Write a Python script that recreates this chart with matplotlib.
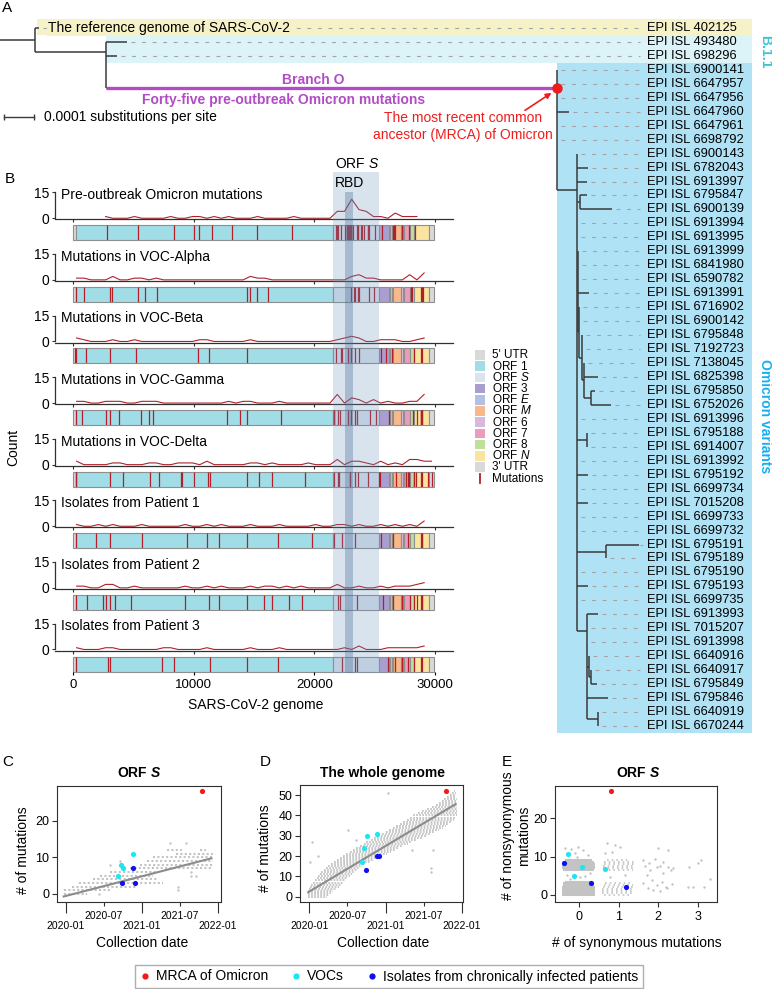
import numpy as np
import pandas as pd
import matplotlib
matplotlib.use("Agg")
import matplotlib.pyplot as plt
import matplotlib.dates as mdates
from matplotlib.patches import Rectangle
from matplotlib.lines import Line2D

plt.rcParams['font.family'] = 'Liberation Sans'
plt.rcParams['mathtext.fontset'] = 'custom'
plt.rcParams['mathtext.rm'] = 'Liberation Sans'
plt.rcParams['mathtext.it'] = 'Liberation Sans:italic'
plt.rcParams['mathtext.bf'] = 'Liberation Sans:bold'
plt.rcParams['mathtext.bfit'] = 'Liberation Sans:italic:bold'

W, H = 772, 989
GENOME = 29903
DAY0 = pd.Timestamp("2020-01-01")

# ---------------- data ----------------
# tree: tip = (name, length), node = [length, children, y anchor (tip rows) or None, label]
# lengths in mutations (1 mutation = 1/29903 substitutions per site)
tree = [3.5, [
    ("EPI ISL 402125", 0.4),
    [7.1, [
        ("EPI ISL 493480", 2.1),
        ("EPI ISL 698296", 1.1),
        [45.1, [
            ("EPI ISL 6900141", 0.0),
            ("EPI ISL 6647957", 0.0),
            ("EPI ISL 6647956", 0.0),
            ("EPI ISL 6647960", 1.2),
            ("EPI ISL 6647961", 0.0),
            ("EPI ISL 6698792", 0.0),
            [2.0, [
                ("EPI ISL 6900143", 0.0),
                ("EPI ISL 6782043", 1.1),
                ("EPI ISL 6913997", 1.0),
                [0.3, [("EPI ISL 6795847", 0.7), ("EPI ISL 6900139", 3.2)], None, ""],
                ("EPI ISL 6913994", 0.0),
                ("EPI ISL 6913995", 0.0),
                [0.1, [
                    ("EPI ISL 6913999", 0.0),
                    ("EPI ISL 6841980", 0.0),
                    ("EPI ISL 6590782", 0.0),
                    ("EPI ISL 6913991", 1.1),
                    [0.1, [
                        ("EPI ISL 6716902", 0.0),
                        ("EPI ISL 6900142", 0.0),
                        [0.3, [
                            ("EPI ISL 6795848", 0.0),
                            ("EPI ISL 7192723", 0.0),
                            [0.2, [
                                ("EPI ISL 7138045", 0.0),
                                ("EPI ISL 6825398", 1.4),
                                [0.7, [("EPI ISL 6795850", 0.4), ("EPI ISL 6752026", 2.0)], None, ""],
                            ], None, ""],
                        ], None, ""],
                    ], None, ""],
                ], None, ""],
                ("EPI ISL 6913996", 0.0),
                [1.0, [("EPI ISL 6795188", 0.0), ("EPI ISL 6914007", 0.0)], None, ""],
                ("EPI ISL 6913992", 0.0),
                ("EPI ISL 6795192", 1.1),
                ("EPI ISL 6699734", 0.0),
                ("EPI ISL 7015208", 1.1),
                ("EPI ISL 6699733", 0.0),
                ("EPI ISL 6699732", 0.0),
                [2.9, [("EPI ISL 6795191", 3.3), ("EPI ISL 6795189", 0.0)], None, ""],
                ("EPI ISL 6795190", 0.0),
                ("EPI ISL 6795193", 1.1),
                ("EPI ISL 6699735", 0.0),
                [1.0, [
                    ("EPI ISL 6913993", 1.1),
                    ("EPI ISL 7015207", 0.0),
                    ("EPI ISL 6913998", 0.0),
                    [0.2, [("EPI ISL 6640916", 0.0),
                           [0.2, [("EPI ISL 6640917", 0.0), ("EPI ISL 6795849", 0.6)], None, ""]], None, ""],
                    ("EPI ISL 6795846", 2.1),
                    [1.1, [("EPI ISL 6640919", 0.0), ("EPI ISL 6670244", 0.0)], None, ""],
                ], 43.2, ""],
            ], 11.6, ""],
        ], 4.3, "MRCA"],
    ], 1.72, "B.1.1"],
], None, "root"]

# genome annotation
gene_start = [1, 266, 21563, 25393, 26245, 26523, 27202, 27394, 27894, 28274, 29534]
gene_end = [265, 21555, 25384, 26220, 26472, 27191, 27387, 27887, 28259, 29533, 29903]
gene_colors = ["#d9d9d9", "#a1dde6", "#dbe4ee", "#a89fd0", "#b4bfe4", "#f8b98a",
               "#d8b8dc", "#eb9cbb", "#bfe09b", "#f9e5a0", "#d9d9d9"]
gene_labels = ["5' UTR", r"ORF $\mathit{1}$", r"ORF $\mathit{S}$", r"ORF $\mathit{3}$",
               r"ORF $\mathit{E}$", r"ORF $\mathit{M}$", r"ORF $\mathit{6}$", r"ORF $\mathit{7}$",
               r"ORF $\mathit{8}$", r"ORF $\mathit{N}$", "3' UTR"]
s_region = (21563, 25384)
rbd_region = (22517, 23185)

row_titles = ["Pre-outbreak Omicron mutations", "Mutations in VOC-Alpha", "Mutations in VOC-Beta",
              "Mutations in VOC-Gamma", "Mutations in VOC-Delta", "Isolates from Patient 1",
              "Isolates from Patient 2", "Isolates from Patient 3"]
mut_pre = [2832, 5386, 8393, 10029, 10449, 11537, 13195, 15240, 18163,
           21762, 21846, 21987, 22194, 22578, 22673, 22679, 22686, 22813, 22882, 22898,
           22992, 22995, 23013, 23040, 23048, 23055, 23075, 23202, 23525, 23599, 23604,
           23854, 23948, 24130, 24424, 24469, 24503, 25000,
           25584, 26530, 26577, 26709, 27259, 27807, 28311]
mut_alpha = [241, 913, 3037, 3267, 5388, 5986, 6954, 14408, 14676, 15279, 16176, 23063, 23271,
             23403, 23604, 23709, 24506, 24914, 27972, 28048, 28111, 28881, 28882, 28883, 28977]
mut_beta = [174, 241, 1059, 3037, 5230, 10323, 11288, 14408, 21801, 22206, 22281, 22813, 23012,
            23063, 23403, 23664, 25563, 25904, 26456, 28253, 28881, 28887]
mut_gamma = [241, 733, 2749, 3037, 3828, 5648, 6319, 6613, 12778, 13860, 14408, 17259, 21614,
             21621, 21638, 21974, 22132, 22812, 23012, 23063, 23403, 23525, 24642, 25088, 26149,
             28167, 28512, 28877, 28878, 28881, 28882, 28883]
mut_delta = [210, 241, 3037, 4181, 6402, 7124, 8986, 9053, 10029, 11201, 11332, 14408, 15451,
             16466, 19220, 21618, 21987, 22029, 22917, 22995, 23403, 23604, 24410, 25352, 25469,
             26767, 27638, 27752, 27874, 28248, 28270, 28461, 28881, 28916, 29402, 29742]
mut_p1 = [241, 1912, 3037, 5700, 9430, 11083, 12100, 14408, 17000, 19800, 21600, 22320, 23403,
          25563, 26500, 27800, 28881, 28882, 28883]
mut_p2 = [241, 1160, 2480, 2760, 3037, 3500, 4800, 9250, 11230, 12090, 14408, 15790, 16480,
          17940, 18960, 21990, 22100, 23520, 25700, 26500, 27300, 27900, 28250, 28500, 28881,
          28882, 28883]
mut_p3 = [241, 2900, 3037, 7370, 8340, 11320, 14408, 16970, 22330, 23403, 23520, 26100, 26700,
          27300, 27800, 28250, 28881, 28882]
row_muts = [mut_pre, mut_alpha, mut_beta, mut_gamma, mut_delta, mut_p1, mut_p2, mut_p3]

# C: ORF S mutations vs collection date (days since 2020-01-01); dense rows of points
c_row_y = [0, 1, 2, 3, 4, 5, 6, 7, 8, 9, 10, 11, 12, 12]
c_row_start = [-11, -11, 29, 61, 132, 164, 212, 308, 356, 388, 420, 531, 484, 643]
c_row_end = [100, 212, 340, 468, 436, 420, 436, 707, 707, 707, 707, 707, 560, 675]
c_out_day = [500, 579, 539, 539, 603, 627, 603, 161, 212, 260]
c_out_y = [14, 14, 2, 1, 5, 5, 6, 0, 8, 9]
c_fit_day = [-11, 699]
c_fit_y = [-0.7, 9.7]

# D: whole genome mutations vs date
d_row_start = [-8, -8, -6, -4, 0, 3, 10, 18, 26, 35, 43, 52, 58, 72, 80, 91, 105, 118, 132, 147,
               162, 178, 194, 210, 226, 242, 260, 270, 295, 312, 330, 347, 365, 382, 400, 417,
               433, 449, 465, 481, 497, 519, 541, 563, 586, 608, 621, 634, 646, 659, 672, 682, 692]
d_row_end = [85, 95, 105, 116, 128, 140, 150, 160, 172, 183, 195, 205, 218, 228, 240, 250, 268,
             290, 310, 332, 355, 372, 392, 410, 430, 449, 470, 492, 515, 538, 560, 580, 600, 620,
             640, 656, 668, 680, 692, 700, 704, 704, 705, 706, 706, 706, 706, 705, 704, 703, 702,
             700, 698]
d_out_day = [11, 3, 377, 489, 592, 580, 584, 226, 186, 43]
d_out_y = [27, 17, 51, 23, 23, 14, 12, 28, 33, 20]
d_fit_day = [-5, 700]
d_fit_y = [2.2, 45.6]

# highlighted isolates
mrca_day = 656
mrca_orf_s, mrca_genome = 28, 52
voc_day = [250, 263, 276, 322]
voc_orf_s = [5, 8, 7, 11]
voc_genome = [17, 24, 30, 31]
pat_day = [271, 324, 333]
pat_orf_s = [3, 7, 3]
pat_genome = [13, 20, 20]

# E: synonymous vs nonsynonymous in ORF S (jittered)
e_dense_y = [0, 0.5, 1, 1.5, 2, 2.5, 3, 3.5, 6.5, 7, 7.5, 8, 8.5, 9]
e_dense_x0 = [-0.42, -0.43, -0.43, -0.42, -0.42, -0.41, -0.40, -0.35, -0.40, -0.42, -0.43, -0.42, -0.40, -0.36]
e_dense_x1 = [0.40, 0.41, 0.41, 0.40, 0.40, 0.38, 0.36, 0.30, 0.38, 0.40, 0.41, 0.40, 0.38, 0.32]
e_sparse_y = [0, 0.5, 1, 1.5, 2, 2.5, 3, 6.5, 7, 7.5, 8, 8.5, 9]
e_sparse_x0 = [0.62, 0.58, 0.58, 0.58, 0.60, 0.62, 0.66, 0.64, 0.60, 0.60, 0.62, 0.64, 0.70]
e_sparse_x1 = [1.30, 1.38, 1.40, 1.40, 1.38, 1.36, 1.30, 1.36, 1.40, 1.42, 1.40, 1.38, 1.30]
e_pts_x = [1.63, 1.77, 1.96, 2.13, 2.26, 2.32, 2.00, 2.26, 1.71, 1.84, 1.96, 2.09, 2.20, 1.63,
           1.75, 1.88, 2.05, 2.22, 2.34, 2.13, 2.05, 1.92, 1.79, 1.67, 2.38,
           0.70, 0.91, 0.83, 1.04, 0.66, 0.78, 1.16,
           -0.35, -0.19, -0.02, 0.11, -0.10, 0.24, -0.31, 0.03, 0.28, -0.23, 0.15, -0.05,
           2.76, 2.89, 3.16, 2.78, 3.02, 3.08, 3.31]
e_pts_y = [9.1, 8.3, 7.4, 8.7, 7.4, 6.5, 12.3, 11.7, 5.2, 3.9, 2.6, 3.5, 2.2, 3.0,
           1.7, 1.3, 1.1, 1.7, 2.9, 5.7, 7.6, 9.3, 6.5, 7.6, 7.1,
           13.5, 13.0, 11.3, 12.4, 10.9, 4.8, 5.2,
           12.2, 11.9, 12.4, 11.6, 10.9, 10.4, 5.2, 4.6, 5.7, 4.2, 5.0, 10.0,
           2.1, 2.1, 2.1, 7.4, 8.3, 9.0, 4.1]
e_mrca = (0.81, 27.1)
e_voc_x = [-0.27, 0.08, -0.12, 0.66]
e_voc_y = [10.7, 7.3, 5.0, 6.9]
e_pat_x = [-0.37, 0.30, 1.20]
e_pat_y = [8.3, 3.1, 2.2]

# ---------------- style ----------------
TREE = "#3a3a3a"
PURPLE = "#b24cc6"
RED = "#f01c1c"
CYAN = "#22e4f0"
BLUE = "#1010ee"
GRAY = "#c3c3c3"
FIT = "#8c8c8c"
MUT = "#b0202a"

fig = plt.figure(figsize=(W / 100, H / 100), dpi=100)


def box(l, t, r, b):
    return [l / W, 1 - b / H, (r - l) / W, (b - t) / H]


def put(x, y, s, **kw):
    return fig.text(x / W, 1 - y / H, s, **kw)


def date_num(days):
    d = DAY0 + pd.to_timedelta(np.asarray(days, dtype=float), unit="D")
    return mdates.date2num(d.to_numpy())


# ---------------- A: tree ----------------
axA = fig.add_axes(box(0, 14, W, 740))
axA.set_xlim(0, W / 10)
axA.set_ylim(51.0, -1.0)
axA.axis("off")

tip_names, tip_x = [], []
hsegs, vsegs, nodes = [], [], {}


def place(node, xp):
    if isinstance(node, tuple):
        name, length = node
        tip_names.append(name)
        tip_x.append(xp + length)
        y = len(tip_names) - 1
        hsegs.append((xp, xp + length, y))
        return y
    length, kids, anchor, label = node
    x = xp + length
    ys = [place(k, x) for k in kids]
    y = anchor if anchor is not None else (min(ys) + max(ys)) / 2
    vsegs.append((x, min(ys + [y]), max(ys + [y])))
    hsegs.append((xp, x, y))
    if label:
        nodes[label] = (xp, x, y)
    return y


place(tree, 0.0)

right_edge = 75.2
x_root = nodes["root"][1]
x_b11 = nodes["B.1.1"][1]
xp_m, x_mrca, y_mrca = nodes["MRCA"]
axA.add_patch(Rectangle((x_root + 0.2, -0.64), right_edge - x_root - 0.2, 1.14,
                        fc="#f6f2c8", ec="none", zorder=0))
axA.add_patch(Rectangle((x_b11, 0.5), right_edge - x_b11, 2.0, fc="#dcf4f7", ec="none", zorder=0))
axA.add_patch(Rectangle((x_mrca, 2.5), right_edge - x_mrca, 48.0, fc="#b0e2f6", ec="none", zorder=0))

for i, (name, tx) in enumerate(zip(tip_names, tip_x)):
    axA.plot([tx + 0.4, 64.0], [i, i], color="#a4a4a4", lw=0.8, ls=(0, (3.5, 6)), zorder=1)
    axA.text(64.7, i, name, fontsize=9.3, va="center", ha="left")

for x0, x1, y in hsegs:
    axA.plot([x0, x1], [y, y], color=TREE, lw=1.1, solid_capstyle="butt", zorder=2)
for x, y0, y1 in vsegs:
    axA.plot([x, x], [y0, y1], color=TREE, lw=1.1, solid_capstyle="butt", zorder=2)
axA.plot([xp_m, x_mrca], [y_mrca, y_mrca], color=PURPLE, lw=2.4, solid_capstyle="butt", zorder=3)
axA.plot(x_mrca, y_mrca, "o", color=RED, ms=6.5, zorder=4)
axA.annotate("", xy=(x_mrca - 0.55, y_mrca + 0.35), xytext=(52.5, 5.9),
             arrowprops=dict(arrowstyle="-|>", color=RED, lw=1.2, mutation_scale=8,
                             shrinkA=0, shrinkB=0))

# scale bar: 0.0001 substitutions per site
sb_len = 0.0001 * GENOME
axA.plot([0.4, 0.4 + sb_len], [6.38, 6.38], color=TREE, lw=1.0, marker="|", ms=5)
put(44, 117, "0.0001 substitutions per site", fontsize=10, va="center")

put(48, 28, "The reference genome of SARS-CoV-2", fontsize=10, va="center",
    bbox=dict(fc="#f6f2c8", ec="none", pad=1))
put(313, 80, "Branch O", fontsize=10, fontweight="bold", color=PURPLE, ha="center", va="center")
put(284, 100, "Forty-five pre-outbreak Omicron mutations", fontsize=10, fontweight="bold",
    color=PURPLE, ha="center", va="center")
put(463, 118, "The most recent common", fontsize=10, color=RED, ha="center", va="center")
put(463, 135, "ancestor (MRCA) of Omicron", fontsize=10, color=RED, ha="center", va="center")
put(765, 52, "B.1.1", fontsize=10, fontweight="bold", color="#3cc6d2", rotation=-90,
    ha="center", va="center")
put(765, 416, "Omicron variants", fontsize=10, fontweight="bold", color="#18aef0",
    rotation=-90, ha="center", va="center")
put(2, 8, "A", fontsize=11, va="center")

# ---------------- B: mutation maps ----------------
BX0, BX1 = 55, 453
G0_PX, G30_PX = 73, 435
px_bp = (G30_PX - G0_PX) / 30000
xlimB = ((BX0 - G0_PX) / px_bp, (BX1 - G0_PX) / px_bp)
edges = np.arange(0, 30001, 600)
centers = edges[:-1] + 300

put(5, 179, "B", fontsize=11, va="center")
for i, (title, muts) in enumerate(zip(row_titles, row_muts)):
    y0 = 219.3 + 61.6 * i
    ax = fig.add_axes(box(BX0, y0 - 28, BX1, y0))
    counts, _ = np.histogram(muts, bins=edges)
    nz = np.nonzero(counts)[0]
    sl = slice(nz[0], nz[-1] + 1)
    ax.plot(centers[sl], counts[sl], color=MUT, lw=0.8)
    ax.set_xlim(*xlimB)
    ax.set_ylim(-0.6, 15.6)
    ax.set_yticks([0, 15])
    ax.set_xticks([0, 10000, 20000, 30000])
    ax.set_xticklabels([])
    ax.spines["top"].set_visible(False)
    ax.spines["right"].set_visible(False)
    ax.spines["left"].set_bounds(0, 15)
    for s in ("left", "bottom"):
        ax.spines[s].set_linewidth(0.9)
        ax.spines[s].set_color("#303030")
    ax.tick_params(length=2.2, width=0.8, labelsize=10, pad=2, color="#303030")
    ax.patch.set_alpha(0)
    put(61, y0 - 24, title, fontsize=10, va="center")

    axg = fig.add_axes(box(BX0, y0 + 6, BX1, y0 + 21))
    axg.set_xlim(*xlimB)
    axg.set_ylim(0, 1)
    axg.barh(0.5, np.subtract(gene_end, gene_start), left=gene_start, height=1,
             color=gene_colors, edgecolor="#8f8f8f", lw=0.8, clip_on=False)
    axg.vlines(muts, 0, 1, color=MUT, lw=0.9)
    axg.set_yticks([])
    for s in axg.spines.values():
        s.set_visible(False)
    axg.patch.set_alpha(0)
    if i == len(row_titles) - 1:
        axg.set_xticks([0, 10000, 20000, 30000])
        axg.tick_params(axis="x", length=2.2, width=0.8, labelsize=9.5, pad=3.5)
    else:
        axg.set_xticks([])

axS = fig.add_axes(box(BX0, 172, BX1, 673))
axS.set_xlim(*xlimB)
axS.set_ylim(0, 1)
axS.axis("off")
axS.set_zorder(5)
axS.axvspan(*s_region, color="#6b93bf", alpha=0.25, lw=0)
axS.axvspan(*rbd_region, ymax=(673 - 192) / (673 - 172), color="#4a6f96", alpha=0.35, lw=0)
put(357, 164, r"ORF $\mathit{S}$", fontsize=10, ha="center", va="center")
put(350, 183, "RBD", fontsize=10, ha="center", va="center", zorder=6)
put(256, 705, "SARS-CoV-2 genome", fontsize=10, ha="center", va="center")
put(13, 447, "Count", fontsize=10, rotation=90, ha="center", va="center")

# legend of B
for k, (lab, col) in enumerate(zip(gene_labels, gene_colors)):
    yc = 355 + 11.2 * k
    fig.patches.append(Rectangle((475 / W, 1 - (yc + 4.8) / H), 10 / W, 9.6 / H,
                                 transform=fig.transFigure, fc=col, ec="none"))
    put(492, yc + 3.4, lab, fontsize=8.5, va="baseline")
yc = 355 + 11.2 * len(gene_labels)
fig.add_artist(Line2D([480 / W, 480 / W], [1 - (yc - 4.5) / H, 1 - (yc + 4.5) / H],
                      color=MUT, lw=1.3))
put(492, yc + 3.4, "Mutations", fontsize=8.5, va="baseline")

# ---------------- C, D, E ----------------
jan = ["2020-01-01", "2021-01-01", "2022-01-01"]
jul = ["2020-07-01", "2021-07-01"]


def str_num(dates):
    return mdates.date2num(pd.to_datetime(dates).to_numpy())


def style_box(ax):
    for s in ax.spines.values():
        s.set_linewidth(0.8)
        s.set_color("#303030")
    ax.tick_params(which="both", direction="out", width=0.8, color="#303030")
    ax.tick_params(axis="y", length=3.5, labelsize=9, pad=2)


def date_axis(ax):
    ax.set_xticks(str_num(jan))
    ax.set_xticklabels([d[:7] for d in jan])
    ax.set_xticks(str_num(jul), minor=True)
    ax.set_xticklabels([d[:7] for d in jul], minor=True)
    ax.tick_params(axis="x", which="major", length=8, pad=5.5, labelsize=7.5)
    ax.tick_params(axis="x", which="minor", length=3, pad=3.2, labelsize=7.5)


axC = fig.add_axes(box(57, 786, 221, 902))
axC.hlines(c_row_y, date_num(c_row_start), date_num(c_row_end), colors=GRAY, lw=1.5,
           linestyles=(0, (1, 1.1)))
axC.scatter(date_num(c_out_day), c_out_y, s=3, color=GRAY, lw=0)
axC.plot(date_num(c_fit_day), c_fit_y, color=FIT, lw=1.5)
axC.scatter(date_num(voc_day), voc_orf_s, s=14, color=CYAN, lw=0, zorder=3)
axC.scatter(date_num(pat_day), pat_orf_s, s=14, color=BLUE, lw=0, zorder=3)
axC.scatter(date_num([mrca_day]), [mrca_orf_s], s=14, color=RED, lw=0, zorder=3)
axC.set_xlim(*date_num([-43, 745]))
axC.set_ylim(-2.2, 29.4)
axC.set_yticks([0, 10, 20])
style_box(axC)
date_axis(axC)
put(139, 773, r"ORF $\mathbfit{S}$", fontsize=10, fontweight="bold", ha="center", va="center")
put(23, 850, "# of mutations", fontsize=10, rotation=90, ha="center", va="center")
put(142, 943, "Collection date", fontsize=10, ha="center", va="center")
put(2, 762, "C", fontsize=11, va="center")

axD = fig.add_axes(box(300, 785, 463, 902))
axD.hlines(np.arange(len(d_row_start)), date_num(d_row_start), date_num(d_row_end), colors=GRAY,
           lw=1.3, linestyles=(0, (1, 0.7)))
axD.scatter(date_num(d_out_day), d_out_y, s=3, color=GRAY, lw=0)
axD.plot(date_num(d_fit_day), d_fit_y, color=FIT, lw=1.5)
axD.scatter(date_num(voc_day), voc_genome, s=14, color=CYAN, lw=0, zorder=3)
axD.scatter(date_num(pat_day), pat_genome, s=14, color=BLUE, lw=0, zorder=3)
axD.scatter(date_num([mrca_day]), [mrca_genome], s=14, color=RED, lw=0, zorder=3)
axD.set_xlim(*date_num([-44, 735]))
axD.set_ylim(-2.6, 55.0)
axD.set_yticks([0, 10, 20, 30, 40, 50])
style_box(axD)
date_axis(axD)
put(382, 773, "The whole genome", fontsize=10, fontweight="bold", ha="center", va="center")
put(265, 848, "# of mutations", fontsize=10, rotation=90, ha="center", va="center")
put(383, 943, "Collection date", fontsize=10, ha="center", va="center")
put(260, 762, "D", fontsize=11, va="center")

axE = fig.add_axes(box(555, 786, 717, 902))
axE.hlines(e_dense_y, e_dense_x0, e_dense_x1, colors=GRAY, lw=1.5)
axE.hlines(e_sparse_y, e_sparse_x0, e_sparse_x1, colors=GRAY, lw=1.2, linestyles=(0, (1, 1.8)))
axE.scatter(e_pts_x, e_pts_y, s=3, color=GRAY, lw=0)
axE.scatter(e_voc_x, e_voc_y, s=14, color=CYAN, lw=0, zorder=3)
axE.scatter(e_pat_x, e_pat_y, s=14, color=BLUE, lw=0, zorder=3)
axE.scatter([e_mrca[0]], [e_mrca[1]], s=14, color=RED, lw=0, zorder=3)
axE.set_xlim(-0.607, 3.49)
axE.set_ylim(-1.83, 28.4)
axE.set_xticks([0, 1, 2, 3])
axE.set_yticks([0, 10, 20])
style_box(axE)
axE.tick_params(axis="x", length=3.6, labelsize=9, pad=3)
put(638, 773, r"ORF $\mathbfit{S}$", fontsize=10, fontweight="bold", ha="center", va="center")
put(516, 836, "# of nonsynonymous\nmutations", fontsize=10, rotation=90, ha="center",
    va="center", multialignment="center", linespacing=1.25)
put(637, 943, "# of synonymous mutations", fontsize=10, ha="center", va="center")
put(502, 762, "E", fontsize=11, va="center")

handles = [Line2D([], [], ls="", marker="o", ms=4.5, color=c, mec="none") for c in (RED, CYAN, BLUE)]
leg = fig.legend(handles, ["MRCA of Omicron", "VOCs", "Isolates from chronically infected patients"],
                 loc="center", bbox_to_anchor=(389 / W, 1 - 976.5 / H), ncol=3, fontsize=10,
                 frameon=True, fancybox=False, edgecolor="#9a9a9a", handlelength=0.8,
                 handletextpad=0.4, columnspacing=1.6, borderpad=0.3)
leg.get_frame().set_linewidth(1.0)

fig.savefig("out.png", dpi=100)
